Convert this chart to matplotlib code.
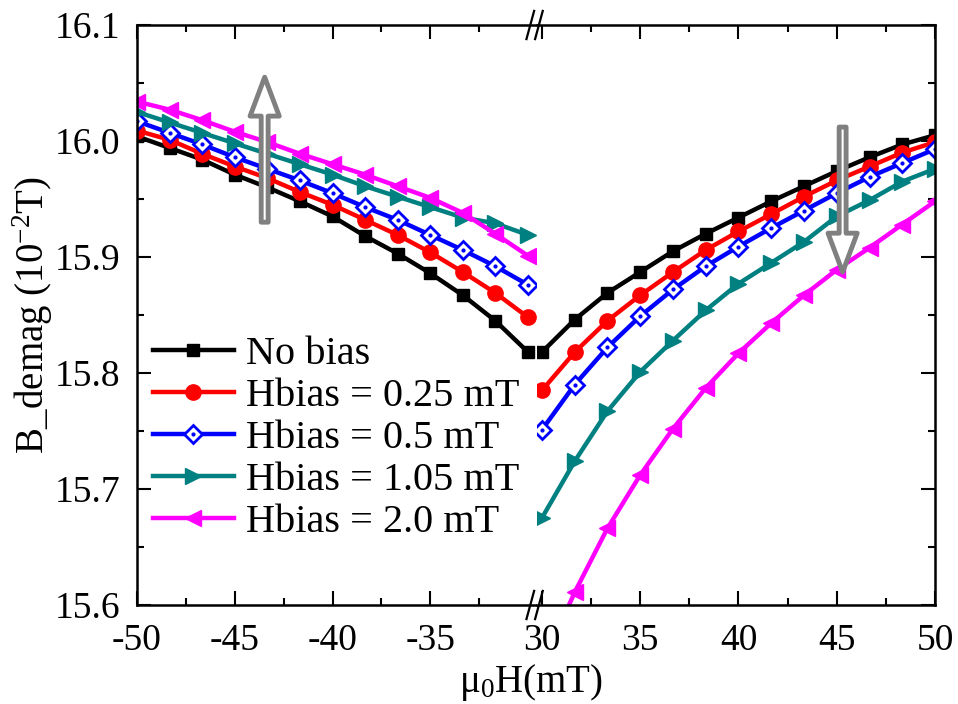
import numpy as np
import matplotlib
matplotlib.use('Agg')
import matplotlib.pyplot as plt
from matplotlib.ticker import MultipleLocator, FixedLocator
from matplotlib.lines import Line2D

plt.rcParams['font.family'] = ['Liberation Serif', 'DejaVu Serif']
plt.rcParams['mathtext.fontset'] = 'custom'
plt.rcParams['mathtext.rm'] = 'Liberation Serif'
plt.rcParams['mathtext.it'] = 'Liberation Serif:italic'
plt.rcParams['axes.unicode_minus'] = False

# field values (mT) on the two sides of the broken axis
h_neg = [-50, -48.33, -46.67, -45, -43.33, -41.67, -40, -38.33, -36.67, -35, -33.33, -31.67, -30]
h_pos = [30, 31.67, 33.33, 35, 36.67, 38.33, 40, 41.67, 43.33, 45, 46.67, 48.33, 50]

# B_demag (1e-2 T), negative side
nobias_neg = [16.004, 15.994, 15.984, 15.971, 15.960, 15.948, 15.935, 15.918, 15.903, 15.886, 15.867, 15.845, 15.818]
b025_neg   = [16.009, 16.001, 15.989, 15.978, 15.968, 15.956, 15.945, 15.932, 15.919, 15.904, 15.887, 15.869, 15.848]
b05_neg    = [16.017, 16.007, 15.997, 15.986, 15.976, 15.966, 15.955, 15.943, 15.932, 15.919, 15.906, 15.892, 15.876]
b105_neg   = [16.025, 16.016, 16.007, 15.998, 15.989, 15.980, 15.971, 15.961, 15.952, 15.943, 15.934, 15.929, 15.919]
b20_neg    = [16.034, 16.027, 16.018, 16.008, 15.999, 15.989, 15.980, 15.971, 15.961, 15.951, 15.938, 15.920, 15.901]

# positive side
nobias_pos = [15.818, 15.846, 15.869, 15.887, 15.905, 15.920, 15.934, 15.948, 15.961, 15.974, 15.986, 15.997, 16.005]
b025_pos   = [15.785, 15.818, 15.845, 15.867, 15.887, 15.906, 15.922, 15.937, 15.952, 15.966, 15.978, 15.990, 15.999]
b05_pos    = [15.751, 15.790, 15.822, 15.849, 15.872, 15.892, 15.909, 15.925, 15.940, 15.955, 15.969, 15.981, 15.993]
b105_pos   = [15.675, 15.724, 15.767, 15.801, 15.828, 15.854, 15.877, 15.895, 15.913, 15.935, 15.949, 15.965, 15.976]
b20_pos    = [15.548, 15.611, 15.666, 15.712, 15.752, 15.787, 15.817, 15.843, 15.867, 15.889, 15.908, 15.928, 15.948]

labels = ['No bias', 'Hbias = 0.25 mT', 'Hbias = 0.5 mT', 'Hbias = 1.05 mT', 'Hbias = 2.0 mT']
colors = ['black', '#ff0000', '#0000ff', '#008080', '#ff00ff']
markers = ['s', 'o', 'D', '>', '<']
msizes = [9, 11, 9, 12, 12]

neg = [nobias_neg, b025_neg, b05_neg, b105_neg, b20_neg]
pos = [nobias_pos, b025_pos, b05_pos, b105_pos, b20_pos]

fig = plt.figure(figsize=(9.58, 7.04), dpi=100)
x0, x1, xb = 137/958, 935/958, 537/958
yb, yt = 1 - 605/704, 1 - 25/704
axL = fig.add_axes([x0, yb, xb - x0, yt - yb])
axR = fig.add_axes([xb, yb, x1 - xb, yt - yb])

handles = []
for i in range(5):
    for ax, xs, ys in ((axL, h_neg, neg[i]), (axR, h_pos, pos[i])):
        if markers[i] == 'D':
            ln, = ax.plot(xs, ys, color=colors[i], lw=3.2, marker='D', ms=msizes[i],
                          mfc='white', mec=colors[i], mew=2)
            dot, = ax.plot(xs, ys, ls='none', marker='o', ms=2, color=colors[i])
            h = (ln, dot)
        else:
            ln, = ax.plot(xs, ys, color=colors[i], lw=3.2, marker=markers[i], ms=msizes[i])
            h = ln
    handles.append(h)

for ax in (axL, axR):
    ax.set_ylim(15.6, 16.1)
    ax.yaxis.set_major_locator(FixedLocator([15.6, 15.7, 15.8, 15.9, 16.0, 16.1]))
    ax.yaxis.set_minor_locator(MultipleLocator(0.05))
    ax.tick_params(which='both', direction='in', top=True, right=True, width=1.5,
                   labelsize=27)
    ax.tick_params(which='major', length=10)
    ax.tick_params(which='minor', length=5)
    ax.tick_params(axis='x', pad=13)
    ax.tick_params(axis='y', pad=12)
    for s in ax.spines.values():
        s.set_linewidth(1.8)

axL.set_xlim(-50, -29.54)
axL.xaxis.set_major_locator(FixedLocator([-50, -45, -40, -35]))
axL.xaxis.set_minor_locator(FixedLocator([-47.5, -42.5, -37.5, -32.5]))
axL.spines['right'].set_visible(False)
axL.tick_params(which='both', right=False)
axL.set_yticklabels(['15.6', '15.7', '15.8', '15.9', '16.0', '16.1'])

axR.set_xlim(29.75, 50)
axR.xaxis.set_major_locator(FixedLocator([30, 35, 40, 45, 50]))
axR.xaxis.set_minor_locator(FixedLocator([32.5, 37.5, 42.5, 47.5]))
axR.spines['left'].set_visible(False)
axR.tick_params(which='both', left=False, labelleft=False)

axL.set_ylabel('B_demag (10$^{-2}$T)', fontsize=28)
axL.yaxis.set_label_coords(-0.205, 0.5)
fig.text(0.554, 0.031, '\u03bc$_0$H(mT)', ha='center', va='center', fontsize=28)

# break marks
for yy in (yb, yt):
    for dx in (-0.007, 0.002):
        fig.add_artist(Line2D([xb + dx - 0.004, xb + dx + 0.004], [yy - 0.02, yy + 0.02],
                              color='black', lw=1.6, transform=fig.transFigure))

# arrows
arrow_kw = dict(arrowstyle='simple,head_length=2.8,head_width=2.1,tail_width=0.5',
                fc='white', ec='#808080', lw=3.5, mutation_scale=10, joinstyle='round',
                capstyle='round', shrinkA=0, shrinkB=0)
axL.annotate('', xy=(-43.47, 16.055), xytext=(-43.47, 15.93), arrowprops=arrow_kw, zorder=10)
axR.annotate('', xy=(45.3, 15.887), xytext=(45.3, 16.012), arrowprops=arrow_kw, zorder=10)

fig.legend(handles, labels, loc='upper left', bbox_to_anchor=(153/958, 1 - 336/704),
           frameon=False, fontsize=29, handlelength=2.0, handletextpad=0.3,
           labelspacing=0.12, borderpad=0, borderaxespad=0)

fig.savefig('out.png', dpi=100)
